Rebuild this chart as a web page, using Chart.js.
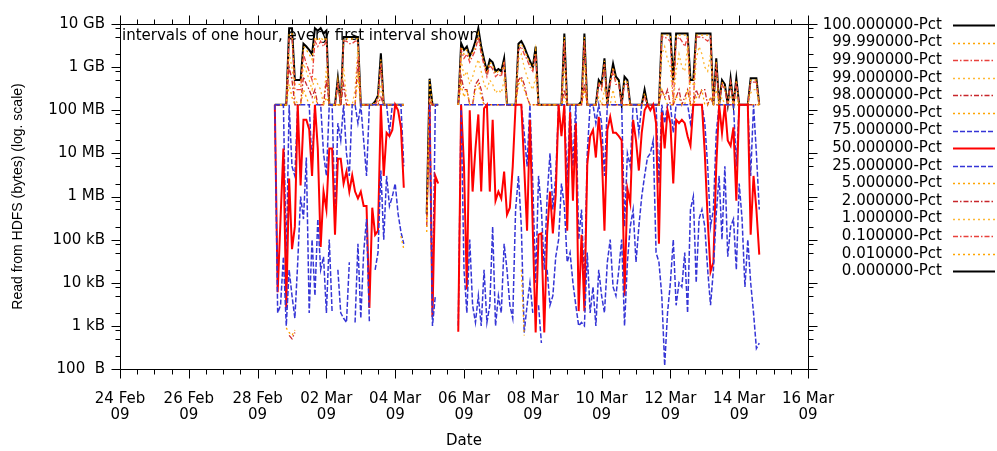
<!DOCTYPE html>
<html>
<head>
<meta charset="utf-8">
<script src="https://cdn.jsdelivr.net/npm/chart.js@4.4.1/dist/chart.umd.min.js"></script>
<style>
  html, body { margin: 0; padding: 0; background: #fff; }
  canvas { display: block; }
</style>
</head>
<body>
<canvas id="chart" width="997" height="451"></canvas>
<script>
// one HDFS block (128 MB) - most percentiles sit right on it
const B = 134217728;

// dense series: one value every 2 hours, first one at 28 Feb 12:00
// (hours counted from 24 Feb 00:00). null = nothing read in that slot.
const startHour = 108;
const stepHours = 2;

const p100 = [
  B,B,B,B,B,8e9,8e9,5e8,5e8,5e8,
  3.5e9,3e9,2.5e9,2e9,8e9,7e9,8e9,6e9,7e9,B,
  B,B,5.6e8,B,5e9,5e9,5e9,5e9,5e9,5e9,
  B,B,B,B,B,1.6e8,2.2e8,2.1e9,B,B,
  B,B,B,B,B,B,
  null,null,null,null,null,null,null,
  4e5,5.4e8,B,B,B,
  null,null,null,null,null,null,
  B,3.6e9,2.5e9,3e9,1.8e9,2.5e9,4e9,8e9,3e9,1.5e9,
  8e8,1.5e9,1.3e9,8e8,9e8,8e8,1.6e9,B,B,B,
  B,3.5e9,4e9,3e9,2e9,1.4e9,1e9,3e9,B,B,
  B,B,B,B,B,B,B,6e9,B,B,
  B,B,B,1.6e8,6e9,B,B,B,B,5e8,
  4e8,1.6e9,B,5e8,1.2e9,6e8,5e8,B,6e8,5e8,
  B,B,B,B,B,3e8,B,B,B,B,
  B,6e9,6e9,6e9,6e9,5e8,6e9,6e9,6e9,6e9,
  6e9,5e8,5e8,6e9,6e9,6e9,6e9,6e9,6e9,B,
  1.6e9,B,5e8,4e8,B,5.5e8,B,5.5e8,B,B,
  B,B,5.5e8,5.5e8,5.5e8,B
];

const p9999 = [
  B,B,B,B,B,6e9,6e9,4e8,4e8,4e8,
  3e9,2.5e9,2e9,1.5e9,5e9,4e9,5e9,4e9,5e9,B,
  B,B,5e8,B,4.5e9,4.5e9,4.5e9,4.5e9,4.5e9,4.5e9,
  B,B,B,B,B,1.5e8,2e8,1.5e9,B,B,
  B,B,B,B,B,B,
  null,null,null,null,null,null,null,
  3.5e5,5e8,B,B,B,
  null,null,null,null,null,null,
  B,3e9,2e9,2.5e9,1.6e9,2.2e9,3e9,6e9,2.5e9,1.3e9,
  7e8,1.3e9,1.1e9,7e8,8e8,7e8,1.4e9,B,B,B,
  B,3e9,3.5e9,2.5e9,1.8e9,1.2e9,9e8,2.5e9,B,B,
  B,B,B,B,B,B,B,5e9,B,B,
  B,B,B,1.5e8,5e9,B,B,B,B,4.5e8,
  3.5e8,1.4e9,B,4.5e8,1e9,5e8,4.5e8,B,5e8,4.5e8,
  B,B,B,B,B,2.5e8,B,B,B,B,
  B,5.5e9,5.5e9,5.5e9,5.5e9,4e8,5.5e9,5.5e9,5.5e9,5.5e9,
  5.5e9,4e8,4e8,5.5e9,5.5e9,5.5e9,5.5e9,5.5e9,5.5e9,B,
  1.4e9,B,4.5e8,3.5e8,B,5e8,B,5e8,B,B,
  B,B,5e8,5e8,5e8,B
];

const p999 = [
  B,B,B,B,B,5e9,5e9,3e8,3e8,3e8,
  2e9,1.2e9,8e8,5e8,4e9,3e9,4e9,3e9,4e9,B,
  B,B,4e8,B,4e9,4e9,3.5e9,3.5e9,4e9,4e9,
  B,B,B,B,B,B,1.8e8,1.2e9,B,B,
  B,B,B,B,B,B,
  null,null,null,null,null,null,null,
  3e5,2e8,B,B,B,
  null,null,null,null,null,null,
  B,2.5e9,1.6e9,2e9,1.3e9,1.8e9,2.5e9,5e9,2e9,1.1e9,
  6e8,1.1e9,9e8,6e8,7e8,6e8,1.2e9,B,B,B,
  B,2.5e9,3e9,2e9,1.5e9,1e9,8e8,2e9,B,B,
  B,B,B,B,B,B,B,4e9,B,B,
  B,B,B,B,4e9,B,B,B,B,4e8,
  3e8,1.2e9,B,4e8,8e8,4e8,4e8,B,4e8,4e8,
  B,B,B,B,B,2e8,B,B,B,B,
  B,5e9,5e9,4.5e9,4e9,B,4e9,5e9,4e9,3e9,
  5e9,B,B,5e9,5e9,5e9,4.5e9,4e9,5e9,B,
  1.2e9,B,4e8,3e8,B,4.5e8,B,4.5e8,B,B,
  B,B,4.5e8,4.5e8,4.5e8,B
];

const p99 = [
  B,B,B,B,B,2e9,1e9,2e8,B,B,
  1.2e9,8e8,5e8,3e8,6e8,4e8,3e8,B,1e9,B,
  B,B,B,B,1e9,2e8,B,B,3e8,3e9,
  B,B,B,B,B,B,B,4e8,B,B,
  B,B,B,B,B,B,
  null,null,null,null,null,null,null,
  2.5e5,1.8e8,B,B,B,
  null,null,null,null,null,null,
  B,1.5e9,6e8,8e8,4e8,6e8,1e9,1.5e9,8e8,4e8,
  3e8,5e8,4e8,2.5e8,3e8,2.5e8,5e8,B,B,B,
  B,1.5e9,2e9,1e9,6e8,4e8,3e8,6e8,B,B,
  B,B,B,B,B,B,B,1e9,B,B,
  B,B,B,B,1.2e9,B,B,B,B,2e8,
  B,3e8,B,B,3e8,B,B,B,B,B,
  B,B,B,B,B,B,B,B,B,B,
  B,2e9,3e9,1.5e9,1e9,B,8e8,2e9,1e9,8e8,
  3e9,B,B,1.5e9,3e9,2e9,1e9,8e8,2e9,B,
  3e8,B,2e8,B,B,2e8,B,2e8,B,B,
  B,B,2.5e8,3e8,3e8,B
];

const p98 = [
  B,B,B,B,B,1e9,5e8,B,B,B,
  6e8,4e8,3e8,2e8,3e8,B,B,B,5e8,B,
  B,B,B,B,4e8,B,B,B,B,1.5e9,
  B,B,B,B,B,B,B,2e8,B,B,
  B,B,B,B,B,B,
  null,null,null,null,null,null,null,
  2e5,1.6e8,B,B,B,
  null,null,null,null,null,null,
  B,6e8,3e8,3e8,B,B,4e8,5e8,3e8,B,
  B,B,B,B,B,B,B,B,B,B,
  B,5e8,6e8,4e8,2e8,B,B,B,B,B,
  B,B,B,B,B,B,B,3e8,B,B,
  B,B,B,B,4e8,B,B,B,B,B,
  B,B,B,B,B,B,B,B,B,B,
  B,B,B,B,B,B,B,B,B,B,
  B,3e8,2e8,3e8,B,B,2e8,3e8,B,2e8,
  3e8,B,B,3e8,2e8,3e8,3e8,B,2e8,B,
  B,B,B,B,B,B,B,B,B,B,
  B,B,B,B,B,B
];

const p95 = [
  B,B,B,B,B,4e8,2e8,B,B,B,
  3e8,2e8,B,B,2e8,B,B,B,2e8,B,
  B,B,B,B,B,B,B,B,B,6e8,
  B,B,B,B,B,B,B,B,B,B,
  B,B,B,B,B,B,
  null,null,null,null,null,null,null,
  1.5e5,1.5e8,B,B,B,
  null,null,null,null,null,null,
  B,4e8,2e8,3e8,B,B,3e8,4e8,2e8,B,
  B,B,B,B,B,B,B,B,B,B,
  B,4e8,5e8,3e8,2e8,B,B,B,B,B,
  B,B,B,B,B,B,B,2e8,B,B,
  B,B,B,B,3e8,B,B,B,B,B,
  B,B,B,B,B,B,B,B,B,B,
  B,B,B,B,B,B,B,B,B,B,
  B,3e8,2e8,B,B,B,2e8,2e8,B,B,
  3e8,B,B,2e8,2e8,3e8,B,B,2e8,B,
  B,B,B,B,B,B,B,B,B,B,
  B,B,B,B,B,B
];

const p75 = [
  B,B,B,B,3e4,B,5e6,3e6,B,B,
  B,B,B,5e6,B,B,B,1e7,3e6,B,
  B,3e5,5e7,2e7,B,1e7,3e6,B,B,5e7,
  B,2e7,3e6,B,B,B,B,B,B,B,
  3e7,B,B,B,B,5e6,
  null,null,null,null,null,null,null,
  null,B,3e3,B,B,
  null,null,null,null,null,null,
  1e3,B,B,B,B,B,B,B,B,B,
  B,B,B,B,B,B,B,B,B,B,
  B,B,B,3e7,5e6,B,2e6,1e4,3e6,5e5,
  2e4,1e6,1e7,5e5,3e6,B,B,B,2e6,B,
  5e6,B,1e5,5e5,8e3,1e7,B,B,5e7,B,
  5e7,3e6,B,B,B,B,B,B,2e5,1e7,
  5e6,B,B,3e7,B,B,B,B,B,B,
  2e6,B,5e7,B,B,3e7,B,B,B,B,
  B,5e7,B,B,B,B,5e7,5e6,2e5,5e5,
  3e7,B,B,B,B,B,B,5e6,B,B,
  B,B,3e6,B,1e7,5e5
];

const p50 = [
  B,6e3,3e5,1.3e7,2.6e3,2.6e6,6e4,2e5,B,1.8e6,
  6e7,6e7,3.6e7,3e6,B,1.3e7,6.8e4,1.3e6,5e5,1.3e7,
  1.3e7,1.3e5,7.5e6,7.5e6,2e6,3.8e6,1.3e6,3.1e6,1.3e6,9e5,
  1.3e6,6e5,6e5,2.6e3,5.5e5,1.3e5,1.6e5,B,3e6,3e7,
  2.5e7,3.5e7,B,1e8,4e7,1.6e6,
  null,null,null,null,null,null,null,
  null,B,1.6e3,3e6,2e6,
  null,null,null,null,null,null,
  7.3e2,B,5e6,7e3,1e8,1.3e6,1.3e7,8e7,1.3e6,1.1e8,
  B,1.3e6,6e7,8e5,1.3e6,9e5,3.8e6,3.8e5,5.5e5,5e6,
  B,B,B,5e6,1.6e5,6e7,1.6e5,7e2,1.3e5,1.4e5,
  7e2,1.4e5,1.3e6,1.4e5,1.1e6,B,2.5e7,B,1.6e5,9e7,
  8e5,5e7,2.2e3,1.3e5,2.2e3,5.5e6,2.5e7,3.5e7,8e6,7e7,
  1.3e7,1.6e5,3.5e7,7e7,3e7,3e7,2.5e7,2e7,5e3,1.5e6,
  7e5,6e7,2e7,4e6,3e7,1e8,B,1e8,B,5e7,
  8e4,9e7,1.3e7,1e8,5e7,2e6,6e7,5e7,6e7,5e7,
  2.5e7,1.5e7,B,B,B,B,1e7,3e5,1.8e4,3e4,
  5e6,B,3e7,B,2e7,1.5e7,4e7,8e5,B,B,
  B,B,1.3e5,3e6,5e5,4.5e4
];

const p25 = [
  B,2e3,3e3,4e4,1e3,2e4,5e3,1.5e3,3e4,1e6,
  3e5,8e6,2e3,1e5,5e3,3e5,2e4,4e4,2e3,1e5,
  2e3,null,2e4,2e3,1.5e3,1.2e3,3e4,null,1.2e3,8e4,
  1.5e3,5e4,3e5,1.2e3,null,2e4,5e4,4e6,1e5,3e6,
  6e5,1e6,2e6,4e5,1.5e5,8e4,
  null,null,null,null,null,null,null,
  null,B,1e3,5e3,null,
  null,null,null,null,null,null,
  null,1e8,2e4,2e3,1e5,3e3,1.2e3,5e3,1e3,2e4,
  1.2e3,3e3,2e5,1e3,5e3,2e3,8e4,2e4,3e3,1.5e3,
  5e5,3e6,2e5,7e2,3e3,1e4,2e3,null,3e3,4e2,
  null,2e4,3e3,5e3,4e4,1e5,2e6,6e5,3e4,5e4,
  1e4,3e3,1e3,1.2e3,1e3,5e4,2e3,8e3,1e3,2e4,
  5e3,2e3,3e4,1e5,8e3,5e3,2e4,1e5,1e3,3e4,
  2e5,5e5,3e4,2e5,1e6,3e6,8e6,1e7,2e7,5e4,
  3e4,5e3,1.2e2,2e3,1e4,1e5,3e3,1e4,8e3,5e4,
  2e3,5e5,1e6,1e4,3e5,5e5,2e5,2e4,3e3,2e4,
  4e5,3e6,1e5,5e6,4e4,2e5,3e5,2e4,2e6,3e5,
  8e3,1e5,1e4,2e3,3e2,4e2
];

// the low percentiles are zero nearly everywhere; only these bits show
const p5Hours  = [116, 118, 120, 122, 123, 196, 198, 199, 280, 282];
const p5Values = [9e2, 7e2, 6e2, 8e2, null, 1.2e5, 6e4, null, 2e4, 6e2];
const p2Hours  = [118, 120, 122];
const p2Values = [6e2, 5e2, 7e2];

const seriesLabels = [
  '100.000000-Pct', '99.990000-Pct', '99.900000-Pct', '99.000000-Pct',
  '98.000000-Pct', '95.000000-Pct', '75.000000-Pct', '50.000000-Pct',
  '25.000000-Pct', '5.000000-Pct', '2.000000-Pct', '1.000000-Pct',
  '0.100000-Pct', '0.010000-Pct', '0.000000-Pct'
];

const dateLabels = ['24 Feb', '26 Feb', '28 Feb', '02 Mar', '04 Mar', '06 Mar',
                    '08 Mar', '10 Mar', '12 Mar', '14 Mar', '16 Mar'];
const yearLabel = '09';

const yTickValues = [1e2, 1e3, 1e4, 1e5, 1e6, 1e7, 1e8, 1e9, 1e10];
const yTickLabels = ['100  B', '1 kB', '10 kB', '100 kB', '1 MB', '10 MB', '100 MB', '1 GB', '10 GB'];
const yMinorSteps = [2, 5, 8];

const noteText = 'intervals of one hour, every first interval shown';

const FONT = "'DejaVu Sans', sans-serif";

const ORANGE = '#ffa500';
const ORANGE2 = '#ffb733';
const RED_DD = '#e8413c';
const DARKRED = '#c8262b';
const BLUE = '#3535d6';
const DOTS = [2, 3];
const DASHDOT = [5, 2, 1.5, 2];
const DASHES = [5, 2];

const styles = [
  { color: '#000000', dash: [], width: 2 },
  { color: ORANGE, dash: DOTS, width: 1.3 },
  { color: RED_DD, dash: DASHDOT, width: 1.3 },
  { color: ORANGE2, dash: DOTS, width: 1.3 },
  { color: DARKRED, dash: DASHDOT, width: 1.3 },
  { color: ORANGE, dash: DOTS, width: 1.3 },
  { color: BLUE, dash: DASHES, width: 1.5 },
  { color: '#ff0000', dash: [], width: 2 },
  { color: BLUE, dash: DASHES, width: 1.5 },
  { color: ORANGE, dash: DOTS, width: 1.3 },
  { color: DARKRED, dash: DASHDOT, width: 1.3 },
  { color: ORANGE2, dash: DOTS, width: 1.3 },
  { color: RED_DD, dash: DASHDOT, width: 1.3 },
  { color: ORANGE, dash: DOTS, width: 1.3 },
  { color: '#000000', dash: [], width: 2 }
];

function densePoints(values) {
  if (values.length !== 170) {
    throw new Error('series length ' + values.length);
  }
  return values.map((v, i) => ({ x: startHour + i * stepHours, y: v }));
}

function sparsePoints(hours, values) {
  return hours.map((h, i) => ({ x: h, y: values[i] }));
}

const seriesPoints = [
  densePoints(p100), densePoints(p9999), densePoints(p999), densePoints(p99),
  densePoints(p98), densePoints(p95), densePoints(p75), densePoints(p50),
  densePoints(p25), sparsePoints(p5Hours, p5Values), sparsePoints(p2Hours, p2Values),
  [], [], [], []
];

const datasets = seriesPoints.map((pts, k) => ({
  label: seriesLabels[k],
  data: pts,
  borderColor: styles[k].color,
  backgroundColor: styles[k].color,
  borderDash: styles[k].dash,
  borderWidth: styles[k].width,
  pointRadius: 0,
  tension: 0,
  spanGaps: false,
  fill: false,
  // gnuplot draws the first curve at the bottom
  order: seriesPoints.length - 1 - k
}));

const gnuplotFrame = {
  id: 'gnuplotFrame',
  beforeDatasetsDraw(chart) {
    const { ctx, chartArea } = chart;
    ctx.save();
    ctx.font = '15px ' + FONT;
    ctx.fillStyle = '#000';
    ctx.textBaseline = 'middle';
    ctx.fillText(noteText, chartArea.left + 2, chartArea.top + 12);
    ctx.restore();
  },
  afterDatasetsDraw(chart) {
    const { ctx, chartArea: a } = chart;
    const xs = chart.scales.x;
    const ys = chart.scales.y;
    ctx.save();
    ctx.strokeStyle = '#000';
    ctx.lineWidth = 1;
    ctx.setLineDash([]);
    ctx.beginPath();
    const L = Math.round(a.left) + 0.5, R = Math.round(a.right) + 0.5;
    const T = Math.round(a.top) + 0.5, Bt = Math.round(a.bottom) + 0.5;
    ctx.rect(L, T, R - L, Bt - T);
    for (let h = xs.min; h <= xs.max; h += 12) {
      const px = Math.round(xs.getPixelForValue(h)) + 0.5;
      const len = h % 48 === 0 ? 9 : 5;
      ctx.moveTo(px, Bt); ctx.lineTo(px, Bt + len);
      ctx.moveTo(px, T); ctx.lineTo(px, T - len);
    }
    yTickValues.forEach((v, i) => {
      const py = Math.round(ys.getPixelForValue(v)) + 0.5;
      ctx.moveTo(L, py); ctx.lineTo(L - 9, py);
      ctx.moveTo(R, py); ctx.lineTo(R + 9, py);
      if (i < yTickValues.length - 1) {
        yMinorSteps.forEach(m => {
          const pm = Math.round(ys.getPixelForValue(v * m)) + 0.5;
          ctx.moveTo(L, pm); ctx.lineTo(L - 5, pm);
          ctx.moveTo(R, pm); ctx.lineTo(R + 5, pm);
        });
      }
    });
    ctx.stroke();
    ctx.restore();
  },
  afterDraw(chart) {
    const ctx = chart.ctx;
    ctx.save();
    ctx.font = '15px ' + FONT;
    ctx.fillStyle = '#000';
    ctx.textAlign = 'right';
    ctx.textBaseline = 'middle';
    chart.data.datasets.forEach((ds, k) => {
      const yy = 25 + k * 17.6;
      ctx.fillText(ds.label, 942, yy);
      ctx.beginPath();
      ctx.strokeStyle = ds.borderColor;
      ctx.lineWidth = ds.borderWidth;
      ctx.setLineDash(ds.borderDash);
      ctx.moveTo(953, Math.round(yy) + 0.5);
      ctx.lineTo(995, Math.round(yy) + 0.5);
      ctx.stroke();
    });
    ctx.restore();
  }
};

const tickFont = { family: FONT, size: 15 };

new Chart(document.getElementById('chart'), {
  type: 'line',
  data: { datasets },
  options: {
    responsive: false,
    animation: false,
    devicePixelRatio: 1,
    layout: { padding: { left: 0, top: 16, right: 189, bottom: 0 } },
    plugins: {
      legend: { display: false },
      tooltip: { enabled: false }
    },
    scales: {
      x: {
        type: 'linear',
        min: 0,
        max: 480,
        grid: { display: false, drawTicks: false },
        border: { display: false },
        ticks: {
          stepSize: 48,
          autoSkip: false,
          maxRotation: 0,
          padding: 22,
          color: '#000',
          font: { family: FONT, size: 15, lineHeight: 1.07 },
          callback: v => [dateLabels[Math.round(v / 48)], yearLabel]
        },
        title: {
          display: true,
          text: 'Date',
          color: '#000',
          font: tickFont,
          padding: { top: 4, bottom: 1 }
        },
        afterFit: s => { s.height = 82; }
      },
      y: {
        type: 'logarithmic',
        min: 100,
        max: 1e10,
        grid: { display: false, drawTicks: false },
        border: { display: false },
        afterBuildTicks: s => { s.ticks = yTickValues.map(v => ({ value: v })); },
        ticks: {
          autoSkip: false,
          padding: 15,
          color: '#000',
          font: tickFont,
          callback: (v, i) => yTickLabels[i]
        },
        title: {
          display: true,
          text: 'Read from HDFS (bytes) (log. scale)',
          color: '#000',
          font: { family: "'Liberation Sans', Arial, sans-serif", size: 14 },
          padding: { top: 10, bottom: 0 }
        },
        afterFit: s => { s.width = 120; }
      }
    }
  },
  plugins: [gnuplotFrame]
});
</script>
</body>
</html>
